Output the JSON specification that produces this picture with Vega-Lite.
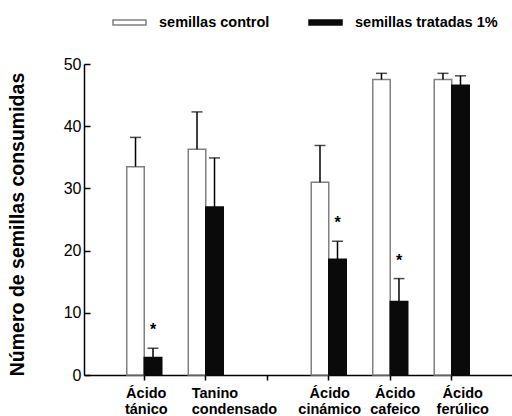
{
  "$schema": "https://vega.github.io/schema/vega-lite/v6.json",
  "autosize": {"type": "none"},
  "padding": {"left": 84, "top": 64, "right": 0, "bottom": 41},
  "width": 428,
  "height": 311,
  "background": "white",
  "config": {
    "font": "Liberation Sans",
    "view": {"stroke": null}
  },
  "data": {
    "values": [
      {"cat": "Ácido tánico", "group": "semillas control", "value": 33.5, "err": 38.2, "sig": ""},
      {"cat": "Ácido tánico", "group": "semillas tratadas 1%", "value": 2.8, "err": 4.3, "sig": "*"},
      {"cat": "Tanino condensado", "group": "semillas control", "value": 36.3, "err": 42.3, "sig": ""},
      {"cat": "Tanino condensado", "group": "semillas tratadas 1%", "value": 27.0, "err": 34.9, "sig": ""},
      {"cat": "Ácido cinámico", "group": "semillas control", "value": 31.0, "err": 36.9, "sig": ""},
      {"cat": "Ácido cinámico", "group": "semillas tratadas 1%", "value": 18.6, "err": 21.5, "sig": "*"},
      {"cat": "Ácido cafeico", "group": "semillas control", "value": 47.5, "err": 48.5, "sig": ""},
      {"cat": "Ácido cafeico", "group": "semillas tratadas 1%", "value": 11.8, "err": 15.5, "sig": "*"},
      {"cat": "Ácido ferúlico", "group": "semillas control", "value": 47.5, "err": 48.5, "sig": ""},
      {"cat": "Ácido ferúlico", "group": "semillas tratadas 1%", "value": 46.6, "err": 48.1, "sig": ""}
    ]
  },
  "encoding": {
    "x": {
      "field": "cat",
      "type": "nominal",
      "sort": null,
      "scale": {
        "domain": ["Ácido tánico", "Tanino condensado", "gap", "Ácido cinámico", "Ácido cafeico", "Ácido ferúlico"],
        "paddingInner": 0,
        "paddingOuter": 0.48
      },
      "axis": {
        "title": null,
        "labelAngle": 0,
        "labelExpr": "datum.label == 'gap' ? '' : split(datum.label, ' ')",
        "labelFont": "Liberation Sans",
        "labelFontWeight": "bold",
        "labelFontSize": 14.5,
        "labelColor": "black",
        "labelLineHeight": 16,
        "labelPadding": 6,
        "labelAlign": {"condition": {"test": "datum.value == 'Tanino condensado'", "value": "left"}, "value": "center"},
        "labelOffset": {
          "condition": [
            {"test": "datum.value == 'Tanino condensado'", "value": -14},
            {"test": "datum.value == 'Ácido tánico'", "value": 2},
            {"test": "datum.value == 'Ácido cafeico'", "value": 5},
            {"test": "datum.value == 'Ácido ferúlico'", "value": 11}
          ],
          "value": 1
        },
        "tickSize": 5,
        "tickWidth": 1.5,
        "tickColor": "black",
        "domainColor": "black",
        "domainWidth": 1.5
      }
    },
    "xOffset": {
      "field": "group",
      "type": "nominal",
      "scale": {"paddingInner": 0, "paddingOuter": 0.757}
    },
    "y": {
      "field": "value",
      "type": "quantitative",
      "scale": {"domain": [0, 50], "nice": false},
      "axis": {
        "title": "Número de semillas consumidas",
        "titleFontSize": 19.5,
        "titleFontWeight": "bold",
        "titleColor": "black",
        "titlePadding": 36,
        "titleY": 160,
        "values": [0, 10, 20, 30, 40, 50],
        "grid": false,
        "labelFontSize": 16,
        "labelColor": "black",
        "labelPadding": 9,
        "tickSize": -6,
        "tickWidth": 1.5,
        "tickColor": "black",
        "domainColor": "black",
        "domainWidth": 1.5
      }
    }
  },
  "layer": [
    {
      "mark": {"type": "bar", "strokeWidth": 1.5},
      "encoding": {
        "fill": {
          "field": "group",
          "type": "nominal",
          "scale": {"domain": ["semillas control", "semillas tratadas 1%"], "range": ["white", "#0a0a0a"]},
          "legend": {
            "title": null,
            "orient": "none",
            "direction": "horizontal",
            "legendX": 28,
            "legendY": -59,
            "symbolType": "M-1,-0.15H1V0.15H-1Z",
            "symbolSize": 1089,
            "symbolStrokeWidth": 1.5,
            "labelFontSize": 14.5,
            "labelFontWeight": "bold",
            "labelColor": "black",
            "labelOffset": 12,
            "columnPadding": 36
          }
        },
        "stroke": {
          "field": "group",
          "type": "nominal",
          "scale": {"domain": ["semillas control", "semillas tratadas 1%"], "range": ["#808080", "#0a0a0a"]},
          "legend": null
        }
      }
    },
    {
      "mark": {"type": "rule", "color": "black", "strokeWidth": 1.5},
      "encoding": {"y2": {"field": "err"}}
    },
    {
      "mark": {"type": "tick", "color": "black", "thickness": 1.5, "size": 11},
      "encoding": {"y": {"field": "err", "type": "quantitative"}}
    },
    {
      "transform": [{"filter": "datum.sig != ''"}],
      "mark": {"type": "text", "fontSize": 16, "fontWeight": "bold", "color": "black", "baseline": "alphabetic", "dy": -13},
      "encoding": {
        "y": {"field": "err", "type": "quantitative"},
        "text": {"field": "sig"}
      }
    }
  ]
}
